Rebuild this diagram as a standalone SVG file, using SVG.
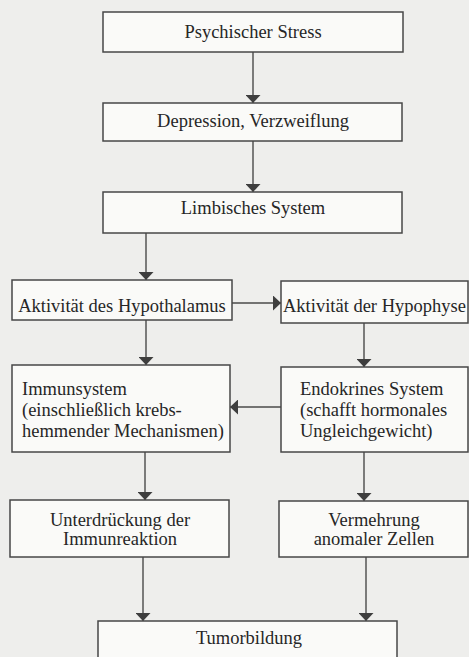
<svg xmlns="http://www.w3.org/2000/svg" width="469" height="657" viewBox="0 0 469 657">
<defs>
<style>
.bg{fill:#eeeeec}
.box{fill:#fafaf8;stroke:#474747;stroke-width:1.5}
.t{font-family:"Liberation Serif","Times New Roman",serif;font-size:18.5px;fill:#262626}
.c{text-anchor:middle}
.ln{stroke:#4a4a4a;stroke-width:1.4;fill:none;marker-end:url(#ah)}
</style>
<marker id="ah" markerUnits="userSpaceOnUse" markerWidth="8" markerHeight="15" viewBox="0 0 8 15" refX="8" refY="7.5" orient="auto">
<path d="M0,0 L8,7.5 L0,15 Z" fill="#3e3e3e"/>
</marker>
</defs>
<rect class="bg" x="0" y="0" width="469" height="657"/>
<g id="connectors">
<line class="ln" x1="253" y1="52" x2="253" y2="103"/>
<line class="ln" x1="253" y1="141" x2="253" y2="192"/>
<line class="ln" x1="146" y1="233" x2="146" y2="280"/>
<line class="ln" x1="232" y1="303" x2="281" y2="303"/>
<line class="ln" x1="146" y1="320" x2="146" y2="365"/>
<line class="ln" x1="364" y1="323" x2="364" y2="367"/>
<line class="ln" x1="281" y1="407" x2="230" y2="407"/>
<line class="ln" x1="145" y1="452" x2="145" y2="500"/>
<line class="ln" x1="364" y1="452" x2="364" y2="501"/>
<line class="ln" x1="143" y1="557" x2="143" y2="621"/>
<line class="ln" x1="366" y1="557" x2="366" y2="621"/>
</g>
<g id="stress">
<rect class="box" x="103" y="12" width="300" height="40"/>
<text class="t c" x="253" y="38">Psychischer Stress</text>
</g>
<g id="depression">
<rect class="box" x="103" y="103" width="299" height="38"/>
<text class="t c" x="253" y="127">Depression, Verzweiflung</text>
</g>
<g id="limbisch">
<rect class="box" x="103" y="192" width="299" height="41"/>
<text class="t c" x="253" y="214">Limbisches System</text>
</g>
<g id="hypothalamus">
<rect class="box" x="12" y="280" width="220" height="40"/>
<text class="t c" x="122" y="312">Aktivität des Hypothalamus</text>
</g>
<g id="hypophyse">
<rect class="box" x="281" y="281" width="187" height="42"/>
<text class="t" x="283" y="312">Aktivität der Hypophyse</text>
</g>
<g id="immunsystem">
<rect class="box" x="12" y="365" width="218" height="87"/>
<text class="t" x="22" y="395">Immunsystem</text>
<text class="t" x="22" y="416">(einschließlich krebs-</text>
<text class="t" x="22" y="437">hemmender Mechanismen)</text>
</g>
<g id="endokrin">
<rect class="box" x="281" y="367" width="187" height="85"/>
<text class="t" x="300" y="395">Endokrines System</text>
<text class="t" x="300" y="416">(schafft hormonales</text>
<text class="t" x="300" y="437">Ungleichgewicht)</text>
</g>
<g id="unterdrueckung">
<rect class="box" x="10" y="500" width="219" height="57"/>
<text class="t c" x="120" y="526">Unterdrückung der</text>
<text class="t c" x="120" y="545">Immunreaktion</text>
</g>
<g id="vermehrung">
<rect class="box" x="279" y="501" width="189" height="56"/>
<text class="t c" x="374" y="526">Vermehrung</text>
<text class="t c" x="374" y="545">anomaler Zellen</text>
</g>
<g id="tumor">
<rect class="box" x="98" y="621" width="299" height="50"/>
<text class="t c" x="249" y="644">Tumorbildung</text>
</g>
</svg>
